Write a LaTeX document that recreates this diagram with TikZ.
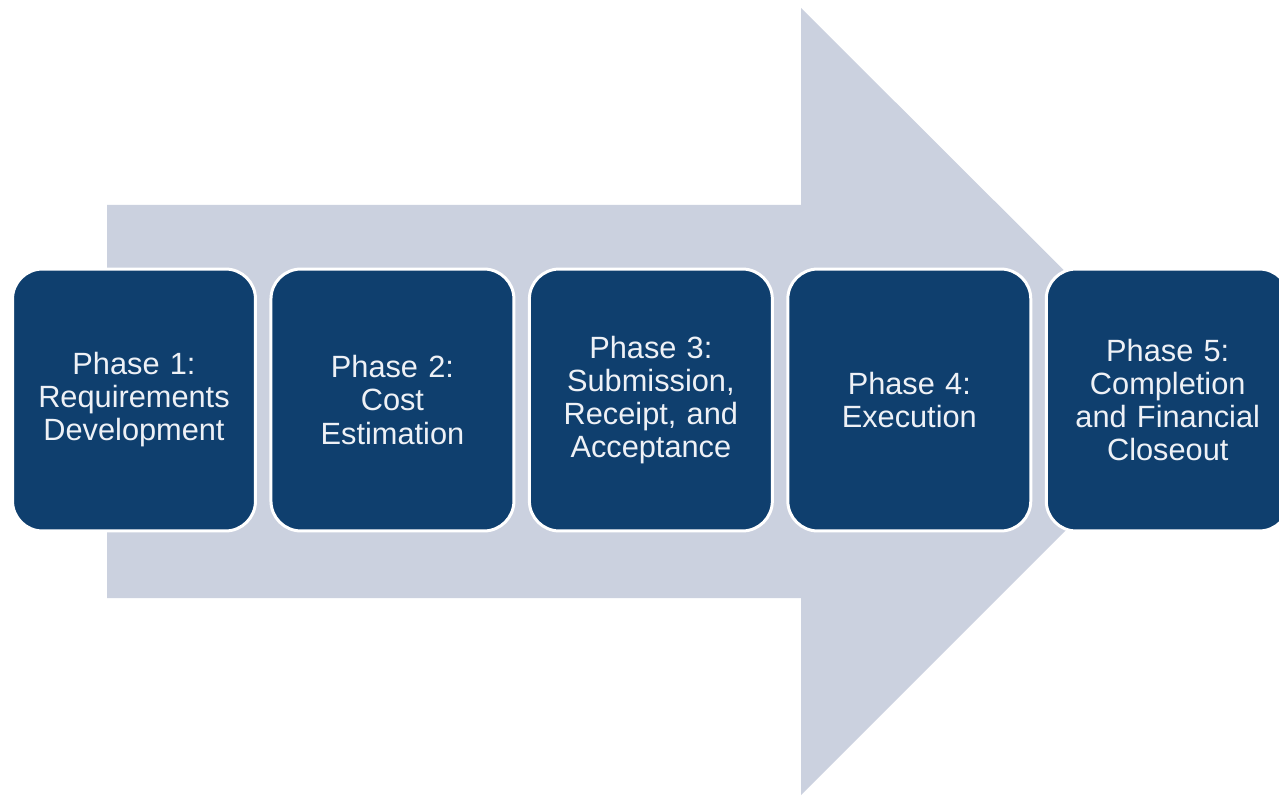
\documentclass[tikz,border=0pt]{standalone}
\usepackage{fontspec}
\setmainfont{Liberation Sans}
\usepackage{xcolor}
\usetikzlibrary{positioning}

\definecolor{phaseblue}{HTML}{0F3F6E}
\definecolor{arrowgray}{HTML}{CBD1DF}
\definecolor{phasetext}{HTML}{EEF1F6}

\tikzset{
  phasebox/.style={draw=white,line width=1.7pt,fill=phaseblue,rounded corners=0.6cm,
    minimum width=4.86cm,minimum height=5.24cm,text width=4.4cm,align=center,
    text=phasetext,font=\fontsize{17.5}{18.8}\selectfont,inner sep=0pt}
}

\begin{document}
\begin{tikzpicture}[x=0.02cm,y=-0.02cm,node distance=0.25cm]
          \useasboundingbox (0,0) rectangle (1279,797);
          % big arrow behind the phases
          \fill[arrowgray] (107,205)--(801,205)--(801,8)--(1195,401)--(801,795)--(801,598)--(107,598)--cycle;

          \node[phasebox] (p1) at (134,400) {Phase 1:\\Requirements\\Development};
          \node[phasebox,right=of p1] (p2) {Phase 2:\\Cost\\Estimation};
          \node[phasebox,right=of p2] (p3) {Phase 3:\\Submission,\\Receipt, and\\Acceptance};
          \node[phasebox,right=of p3] (p4) {Phase 4:\\Execution};
          \node[phasebox,right=of p4] (p5) {Phase 5:\\Completion\\and Financial\\Closeout};
        \end{tikzpicture}
\end{document}
